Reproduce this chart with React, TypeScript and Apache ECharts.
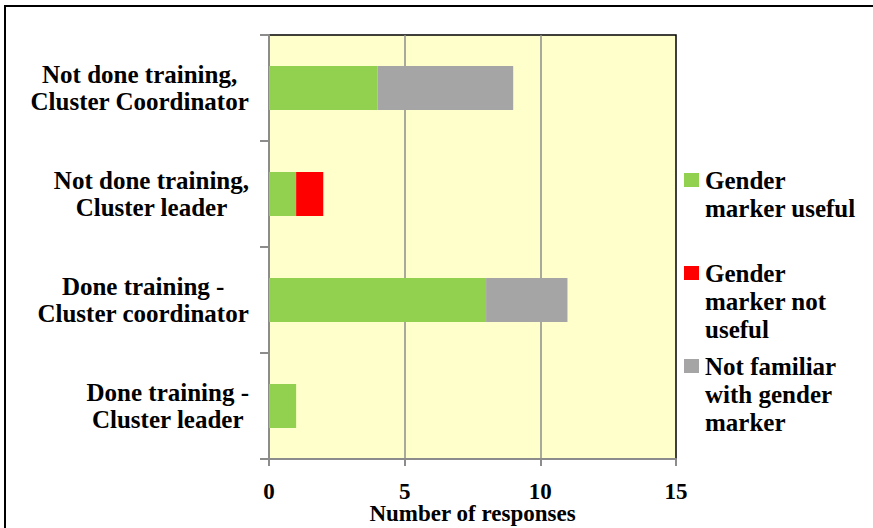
import React, { useEffect, useRef } from "react";
import * as echarts from "echarts";

// Respondent groups, listed top to bottom
const groups = [
  "Not done training,\nCluster Coordinator",
  "Not done training,\nCluster leader",
  "Done training -\nCluster coordinator",
  "Done training -\nCluster leader",
];

// Number of responses per group
const markerUseful = [4, 1, 8, 1];
const markerNotUseful = [0, 1, 0, 0];
const notFamiliar = [5, 0, 3, 0];

const xTicks = { min: 0, max: 15, interval: 5 };

const seriesNames = [
  "Gender marker useful",
  "Gender marker not useful",
  "Not familiar with gender marker",
];
const legendLines: Record<string, string[]> = {
  "Gender marker useful": ["Gender", "marker useful"],
  "Gender marker not useful": ["Gender", "marker not", "useful"],
  "Not familiar with gender marker": ["Not familiar", "with gender", "marker"],
};

const GREEN = "#92D050";
const RED = "#FF0000";
const GREY = "#A5A5A5";
const AXIS_GREY = "#8C8C8C";
const FONT = "'Liberation Serif', 'Times New Roman', serif";

const swatchKey: Record<string, string> = {
  "Gender marker useful": "g",
  "Gender marker not useful": "r",
  "Not familiar with gender marker": "y",
};

export default function App() {
  const ref = useRef<HTMLDivElement>(null);

  useEffect(() => {
    if (!ref.current) return;
    const chart = echarts.init(ref.current, null, { renderer: "svg" });

    const labelText = {
      fontFamily: FONT,
      fontWeight: "bold" as const,
      fontSize: 25,
      color: "#000",
    };

    const swatch = (c: string) => ({
      width: 15,
      height: 14,
      backgroundColor: c,
    });

    chart.setOption({
      animation: false,
      backgroundColor: "#fff",
      graphic: [
        {
          type: "rect",
          z: -10,
          silent: true,
          shape: { x: 5, y: 6, width: 900, height: 600 },
          style: { fill: "none", stroke: "#000", lineWidth: 2 },
        },
      ],
      grid: {
        left: 269,
        right: 197,
        top: 35,
        bottom: 69,
        show: true,
        backgroundColor: "#FFFFCC",
        borderColor: "#000",
        borderWidth: 1.5,
        outerBoundsMode: "none",
      },
      legend: {
        orient: "vertical",
        left: 679,
        top: 166,
        padding: 0,
        itemWidth: 0,
        itemHeight: 0,
        itemGap: 9,
        selectedMode: false,
        data: seriesNames,
        formatter: (name: string) => {
          const lines = legendLines[name] || [name];
          const parts = lines.map(
            (l, i) => (i === 0 ? `{${swatchKey[name]}|}` : "{i|}") + `{t|${l}}`
          );
          while (parts.length < 3) parts.push("{i|}{t| }");
          return parts.join("\n");
        },
        textStyle: {
          ...labelText,
          lineHeight: 28,
          rich: {
            g: swatch(GREEN),
            r: swatch(RED),
            y: swatch(GREY),
            i: { width: 15, height: 14 },
            t: { ...labelText, lineHeight: 28, padding: [0, 0, 0, 6] },
          },
        },
      },
      xAxis: {
        type: "value",
        min: xTicks.min,
        max: xTicks.max,
        interval: xTicks.interval,
        name: "Number of responses",
        nameLocation: "middle",
        nameGap: 45,
        nameMoveOverlap: false,
        nameTextStyle: { ...labelText, fontSize: 23, lineHeight: 18 },
        axisLine: { show: true, lineStyle: { color: AXIS_GREY, width: 2 } },
        axisTick: { show: true, length: 7, lineStyle: { color: AXIS_GREY, width: 2 } },
        axisLabel: { ...labelText, fontSize: 23, lineHeight: 18, margin: 23 },
        splitLine: {
          show: true,
          showMinLine: false,
          showMaxLine: false,
          lineStyle: { color: AXIS_GREY, width: 1.5 },
        },
      },
      yAxis: {
        type: "category",
        inverse: true,
        data: groups,
        axisLine: { show: true, lineStyle: { color: AXIS_GREY, width: 2 } },
        axisTick: {
          show: true,
          alignWithLabel: false,
          length: 9,
          lineStyle: { color: AXIS_GREY, width: 2 },
        },
        splitLine: { show: false },
        axisLabel: {
          ...labelText,
          lineHeight: 27,
          margin: 20,
          align: "right",
          formatter: (v: string) =>
            v
              .split("\n")
              .map((l) => `{c|${l}}`)
              .join("\n"),
          rich: {
            c: { ...labelText, lineHeight: 27, align: "center" },
          },
        },
      },
      series: [
        {
          name: seriesNames[0],
          type: "bar",
          stack: "total",
          barWidth: "41.5%",
          itemStyle: { color: GREEN },
          data: markerUseful,
        },
        {
          name: seriesNames[1],
          type: "bar",
          stack: "total",
          barWidth: "41.5%",
          itemStyle: { color: RED },
          data: markerNotUseful,
        },
        {
          name: seriesNames[2],
          type: "bar",
          stack: "total",
          barWidth: "41.5%",
          itemStyle: { color: GREY },
          data: notFamiliar,
        },
      ],
    });

    return () => chart.dispose();
  }, []);

  return (
    <div
      ref={ref}
      style={{ position: "fixed", left: 0, top: 0, width: 873, height: 528 }}
    />
  );
}
